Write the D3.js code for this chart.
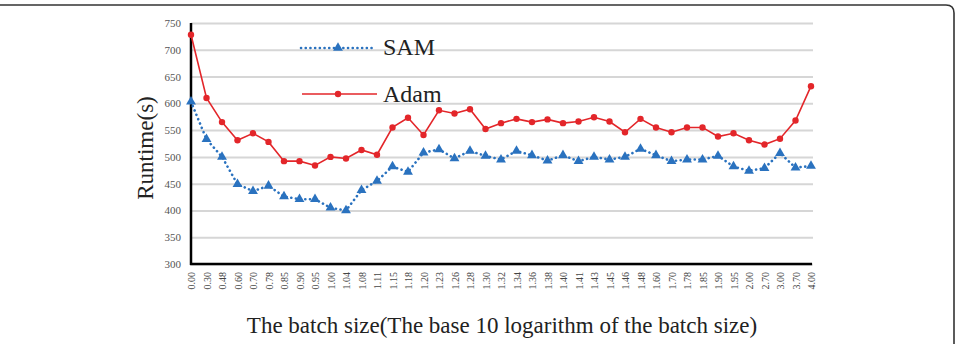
<!DOCTYPE html>
<html lang="en">
<head>
<meta charset="utf-8">
<title>SAM vs Adam runtime</title>
<script src="https://cdn.jsdelivr.net/npm/d3@7"></script>
<style>
  body { margin: 0; background: #fff; }
  svg { display: block; font-family: "Liberation Serif", "Times New Roman", serif; }
</style>
</head>
<body>
<div id="chart"></div>
<script>
// batch size (log10) categories
const batchLabels = ["0.00","0.30","0.48","0.60","0.70","0.78","0.85","0.90","0.95","1.00",
  "1.04","1.08","1.11","1.15","1.18","1.20","1.23","1.26","1.28","1.30",
  "1.32","1.34","1.36","1.38","1.40","1.41","1.43","1.45","1.46","1.48",
  "1.60","1.70","1.78","1.85","1.90","1.95","2.00","2.70","3.00","3.70","4.00"];

const samRuntime = [603,533,500,449,436,446,426,421,421,405,
  400,438,455,482,472,508,514,497,511,502,
  495,511,503,493,503,492,500,495,500,515,
  503,492,495,495,502,482,474,479,507,480,483];

const adamRuntime = [728,610,565,531,544,528,492,492,484,500,
  497,513,504,555,573,541,587,581,589,552,
  563,571,565,570,563,566,574,566,546,571,
  555,546,555,555,538,544,531,523,534,568,632];

const yTicks = [300,350,400,450,500,550,600,650,700,750];

const w = 961, h = 344;
const mLeft = 191, mRight = 811, mTop = 23, mBottom = 264;

const svg = d3.select("#chart").append("svg")
  .attr("width", w)
  .attr("height", h);

// frame (cropped rounded box)
svg.append("path")
  .attr("d", "M0,5 L946,5 Q954,5 954,13 L954," + h)
  .attr("fill", "none")
  .attr("stroke", "#333")
  .attr("stroke-width", 1.6);

const x = d3.scalePoint()
  .domain(batchLabels)
  .range([mLeft, mRight]);

const y = d3.scaleLinear()
  .domain([300, 750])
  .range([mBottom, mTop]);

// gridlines + y labels
const yAxis = svg.append("g")
  .attr("class", "y axis")
  .attr("transform", "translate(" + mLeft + ",0)")
  .call(d3.axisLeft(y).tickValues(yTicks).tickSize(-(mRight - mLeft + 2)).tickPadding(10));
yAxis.select(".domain").remove();
yAxis.selectAll(".tick line").attr("stroke", "#d6d6d6").attr("stroke-width", 2);
yAxis.selectAll(".tick text")
  .attr("fill", "#555")
  .style("font-size", "11px")
  .style("font-family", "'Liberation Serif', serif");

// x axis
const xAxis = svg.append("g")
  .attr("class", "x axis")
  .attr("transform", "translate(0," + mBottom + ")")
  .call(d3.axisBottom(x).tickSize(0).tickPadding(0));
xAxis.select(".domain").remove();
xAxis.selectAll(".tick text")
  .attr("fill", "#444")
  .style("font-size", "10px")
  .style("font-family", "'Liberation Serif', serif")
  .attr("text-anchor", "end")
  .attr("x", -8)
  .attr("y", 0)
  .attr("dy", "0.35em")
  .attr("transform", "rotate(-90)");

// axis lines
svg.append("line")
  .attr("x1", mLeft).attr("x2", mLeft)
  .attr("y1", mTop).attr("y2", mBottom + 1)
  .attr("stroke", "#000").attr("stroke-width", 2.5);
svg.append("line")
  .attr("x1", mLeft - 1).attr("x2", mRight + 1)
  .attr("y1", mBottom).attr("y2", mBottom)
  .attr("stroke", "#000").attr("stroke-width", 2.5);

const line = d3.line()
  .x((d, i) => x(batchLabels[i]))
  .y(d => y(d));

const red = "#e3262a", blue = "#2a72bf";

// SAM dotted with triangles
svg.append("path")
  .datum(samRuntime)
  .attr("d", line)
  .attr("fill", "none")
  .attr("stroke", blue)
  .attr("stroke-width", 2.6)
  .attr("stroke-linecap", "round")
  .attr("stroke-dasharray", "0.1 4.6");

const tri = d3.symbol().type(d3.symbolTriangle).size(42);
svg.append("g")
  .selectAll("path")
  .data(samRuntime)
  .enter()
  .append("path")
  .attr("d", tri)
  .attr("transform", (d, i) => "translate(" + x(batchLabels[i]) + "," + y(d) + ")")
  .attr("fill", blue);

// Adam solid with dots
svg.append("path")
  .datum(adamRuntime)
  .attr("d", line)
  .attr("fill", "none")
  .attr("stroke", red)
  .attr("stroke-width", 1.6);

svg.append("g")
  .selectAll("circle")
  .data(adamRuntime)
  .enter()
  .append("circle")
  .attr("cx", (d, i) => x(batchLabels[i]))
  .attr("cy", d => y(d))
  .attr("r", 3.2)
  .attr("fill", red);

// legend
const legend = svg.append("g");
legend.append("line")
  .attr("x1", 301).attr("x2", 374).attr("y1", 48).attr("y2", 48)
  .attr("stroke", blue).attr("stroke-width", 2.6)
  .attr("stroke-linecap", "round").attr("stroke-dasharray", "0.1 4.6");
legend.append("path")
  .attr("d", tri)
  .attr("transform", "translate(338,48)")
  .attr("fill", blue);
legend.append("text")
  .attr("x", 383).attr("y", 55)
  .style("font-size", "24px")
  .attr("fill", "#222")
  .text("SAM");

legend.append("line")
  .attr("x1", 302).attr("x2", 377).attr("y1", 94).attr("y2", 94)
  .attr("stroke", red).attr("stroke-width", 1.6);
legend.append("circle")
  .attr("cx", 338).attr("cy", 94).attr("r", 3.2)
  .attr("fill", red);
legend.append("text")
  .attr("x", 383).attr("y", 102)
  .style("font-size", "24px")
  .attr("fill", "#222")
  .text("Adam");

// axis titles
svg.append("text")
  .attr("transform", "translate(153,148) rotate(-90)")
  .attr("text-anchor", "middle")
  .style("font-size", "23px")
  .attr("fill", "#222")
  .text("Runtime(s)");

svg.append("text")
  .attr("x", 502).attr("y", 333)
  .attr("text-anchor", "middle")
  .style("font-size", "23px")
  .attr("fill", "#222")
  .text("The batch size(The base 10 logarithm of the batch size)");
</script>
</body>
</html>
